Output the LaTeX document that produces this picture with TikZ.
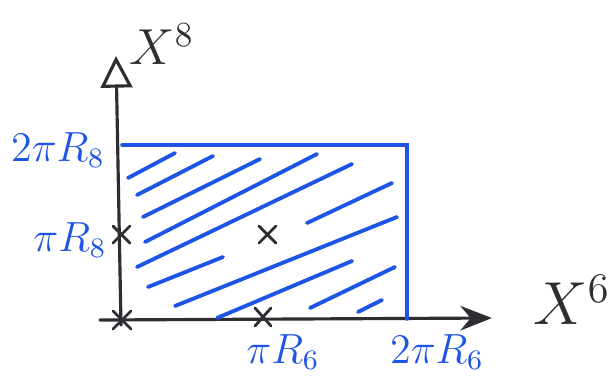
\documentclass[tikz,border=0pt]{standalone}
\usepackage{amsmath}
\usetikzlibrary{arrows.meta}
\definecolor{penblue}{RGB}{30,85,230}
\definecolor{penblack}{RGB}{45,45,50}

\begin{document}
\begin{tikzpicture}[x=0.1mm, y=-0.1mm, line width=0.9pt, line cap=round,
  axis/.style={draw=penblack},
  hatch/.style={draw=penblue, line width=1.1pt},
  cross/.style={draw=penblack, line width=0.8pt},
  ticklabel/.style={text=penblue, font=\large},
  axislabel/.style={text=penblack, font=\Large}]
\useasboundingbox (0,0) rectangle (610,391);

% Axes
\draw[axis, -{Triangle[open, length=9pt, width=9pt]}] (121,325) -- (116,56);
\draw[axis, -{Stealth[length=9pt, width=7pt]}] (100,320) -- (492,318);
\node[axislabel] (x8) at (162,44) {$X^{8}$};
\node[axislabel, font=\LARGE] (x6) at (572,300) {$X^{6}$};

% Fundamental domain
\draw[draw=penblue, line width=1pt] (122,145) -- (407,145) -- (407,319);

% Hatching
\draw[hatch] (128,178) -- (175,153);
\draw[hatch] (137,195) -- (213,156);
\draw[hatch] (143,217) -- (260,159);
\draw[hatch] (145,242) -- (317,154);
\draw[hatch] (137,267) -- (352,164);
\draw[hatch] (307,223) -- (392,183);
\draw[hatch] (148,287) -- (223,257);
\draw[hatch] (175,306) -- (397,217);
\draw[hatch] (217,318) -- (352,261);
\draw[hatch] (310,308) -- (395,267);
\draw[hatch] (358,312) -- (382,300);

% Fixed points
\draw[cross] (113,311) -- (131,329) (131,311) -- (113,329);
\draw[cross] (113,226) -- (130,243) (130,226) -- (113,243);
\draw[cross] (255,308) -- (271,326) (271,308) -- (255,326);
\draw[cross] (259,226) -- (276,243) (276,226) -- (259,243);

% Tick labels
\node[ticklabel] (tp8) at (58,150) {$2\pi R_{8}$};
\node[ticklabel] (hp8) at (70,240) {$\pi R_{8}$};
\node[ticklabel] (hp6) at (283,352) {$\pi R_{6}$};
\node[ticklabel] (tp6) at (437,352) {$2\pi R_{6}$};

\end{tikzpicture}
\end{document}
